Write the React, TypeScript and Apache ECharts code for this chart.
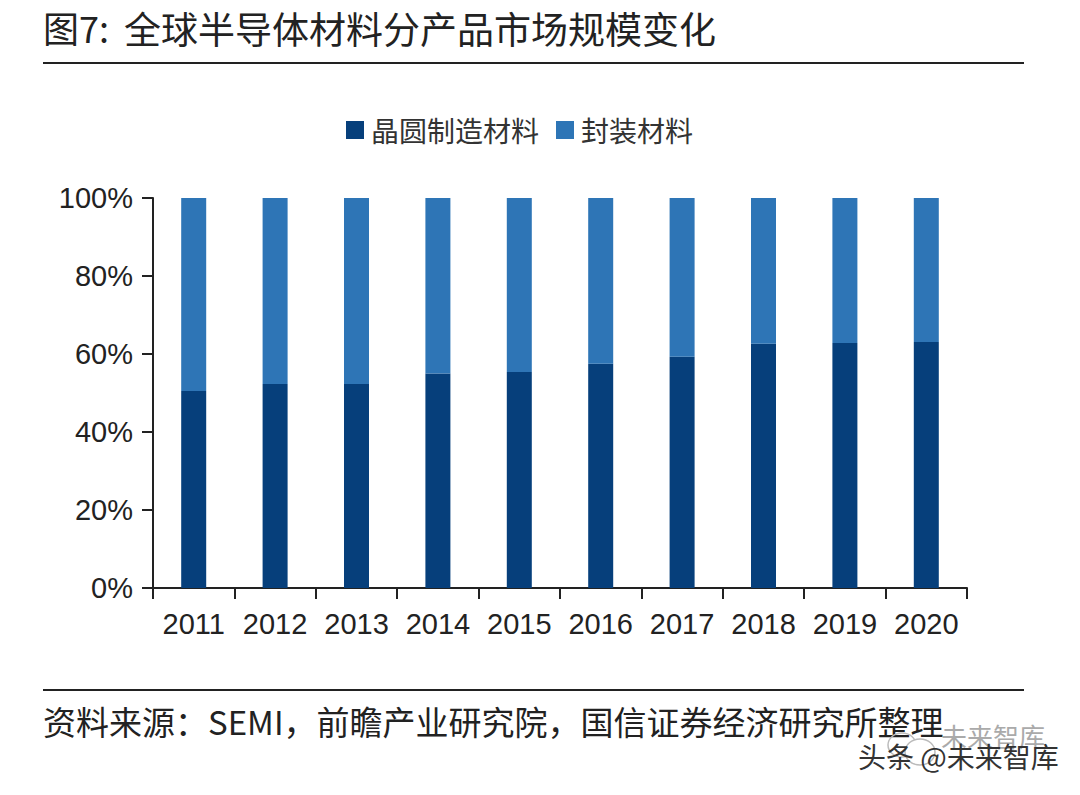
import React, { useEffect, useRef } from "react";
import * as echarts from "echarts";

const categories = ["2011","2012","2013","2014","2015","2016","2017","2018","2019","2020"];
const wafer = [50.5,52.3,52.3,55,55.4,57.5,59.3,62.6,62.8,63.1];
const packaging = [49.5,47.7,47.7,45,44.6,42.5,40.7,37.4,37.2,36.9];
const titleLead = "图7:";
const titleRest = "全球半导体材料分产品市场规模变化";
const source = "资料来源：SEMI，前瞻产业研究院，国信证券经济研究所整理";
const wm = "头条 @未来智库";
const wmGhost = "未来智库";
const cjk = '"Noto Sans CJK SC", sans-serif';

export default function App() {
  const ref = useRef<HTMLDivElement>(null);
  useEffect(() => {
    const c = echarts.init(ref.current!, undefined, { renderer: "svg" });
    c.setOption({
      animation: false,
      backgroundColor: "#fff",
      legend: {
        top: 111, left: 341, icon: "rect", itemWidth: 18, itemHeight: 18, itemGap: 17,
        textStyle: { fontFamily: cjk, fontSize: 28, color: "#333", padding: [0, 0, 0, 2] },
        data: ["晶圆制造材料", "封装材料"],
      },
      grid: { left: 153, right: 113, top: 198, bottom: 207 },
      xAxis: {
        type: "category", data: categories,
        axisLine: { lineStyle: { color: "#222", width: 2 } },
        axisTick: { show: true, length: 11, lineStyle: { color: "#222", width: 2 } },
        axisLabel: { interval: 0, fontFamily: "Liberation Sans", fontSize: 29, color: "#222", margin: 21 },
      },
      yAxis: {
        type: "value", min: 0, max: 100, interval: 20,
        splitLine: { show: false },
        axisLine: { show: true, lineStyle: { color: "#222", width: 2 } },
        axisTick: { show: true, length: 11, lineStyle: { color: "#222", width: 2 } },
        axisLabel: { formatter: "{value}%", fontFamily: "Liberation Sans", fontSize: 29, color: "#222", margin: 20 },
      },
      series: [
        { name: "晶圆制造材料", type: "bar", stack: "a", data: wafer, barWidth: 25, itemStyle: { color: "#063f7b" } },
        { name: "封装材料", type: "bar", stack: "a", data: packaging, barWidth: 25, itemStyle: { color: "#2e75b6" } },
      ],
      graphic: [
        { type: "text", x: 43, y: 9, style: { text: titleLead, font: `36px ${cjk}`, fill: "#222" } },
        { type: "text", x: 124, y: 9, style: { text: titleRest, font: `37px ${cjk}`, fill: "#222" } },
        { type: "line", shape: { x1: 43, y1: 63, x2: 1024, y2: 63 }, style: { stroke: "#222", lineWidth: 2 } },
        { type: "line", shape: { x1: 43, y1: 690, x2: 1024, y2: 690 }, style: { stroke: "#222", lineWidth: 2 } },
        { type: "text", x: 43, y: 704, style: { text: source, font: `33px ${cjk}`, fill: "#222" } },
        { type: "ellipse", shape: { cx: 902, cy: 745, rx: 14, ry: 12 }, style: { fill: "none", stroke: "#bbb", lineWidth: 1.5 } },
        { type: "ellipse", shape: { cx: 920, cy: 752, rx: 15, ry: 13 }, style: { fill: "#fff", stroke: "#bbb", lineWidth: 1.5 } },
        { type: "text", x: 941, y: 722, style: { text: wmGhost, font: `26px ${cjk}`, fill: "#aaa" } },
        { type: "text", x: 858, y: 742, style: { text: wm, font: `28px ${cjk}`, fill: "#333" } },
      ],
    });
    return () => c.dispose();
  }, []);
  return <div ref={ref} style={{ position: "absolute", left: 0, top: 0, width: 1080, height: 795 }} />;
}
